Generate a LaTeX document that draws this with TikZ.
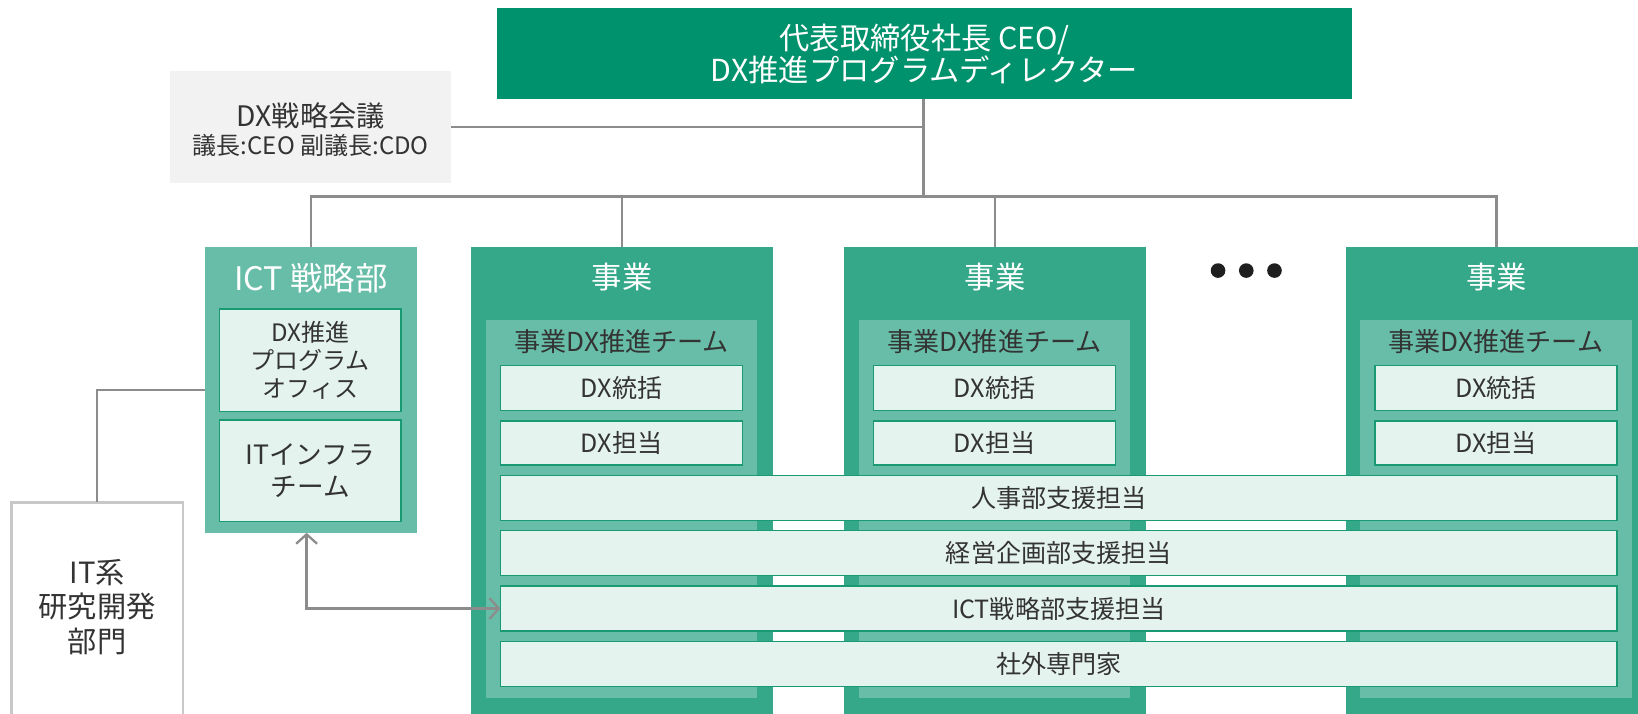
\documentclass[tikz,border=0pt]{standalone}
\usepackage{fontspec}
\setmainfont{Noto Sans CJK JP}
\usetikzlibrary{arrows.meta,calc}
\definecolor{ceogreen}{RGB}{0,146,108}
\definecolor{coldark}{RGB}{52,168,136}
\definecolor{colmid}{RGB}{103,189,167}
\definecolor{boxlight}{RGB}{228,243,238}
\definecolor{boxline}{RGB}{26,154,115}
\definecolor{meetgray}{RGB}{242,242,242}
\definecolor{conngray}{RGB}{140,140,140}
\definecolor{txtdark}{RGB}{51,51,51}
\definecolor{itrline}{RGB}{200,200,200}
\newcommand\fsz[2]{\fontsize{#1}{#2}\selectfont}
\begin{document}
\begin{tikzpicture}[x=1pt,y=-1pt,
  base/.style={rectangle, inner sep=0pt, outer sep=0pt, anchor=north west},
  ceobox/.style={base, fill=ceogreen, text=white, align=center, font=\fsz{29}{31}},
  meetbox/.style={base, fill=meetgray, text=txtdark, align=center},
  colbox/.style={base, fill=coldark},
  ictbox/.style={base, fill=colmid},
  teambox/.style={base, fill=colmid},
  smallbox/.style={base, fill=boxlight, draw=boxline, line width=1.4pt, text=txtdark, align=center, font=\fsz{24}{28}},
  titletext/.style={text=white, font=\fsz{29}{32}},
  teamtext/.style={text=txtdark, font=\fsz{25}{29}},
  conn/.style={draw=conngray, line width=2.2pt},
  dot/.style={circle, fill=black!88, inner sep=0pt, minimum size=14pt}
]
\useasboundingbox (0,0) rectangle (1568,683);

% top
\node[ceobox, minimum width=818pt, minimum height=87pt] (ceo) at (476,8) {代表取締役社長 CEO/\\DX推進プログラムディレクター};
\node[meetbox, minimum width=269pt, minimum height=107pt] (meet) at (163,68) {};
\node[text=txtdark, align=center, font=\fsz{27}{30}] (meett) at ($(meet.center)+(0,-11)$) {DX戦略会議};
\node[text=txtdark, align=center, font=\fsz{23}{26}] (meets) at ($(meet.center)+(0,18)$) {議長:CEO 副議長:CDO};

% ICT
\node[ictbox, minimum width=203pt, minimum height=274pt] (ict) at (196,236) {};
\node[titletext, font=\fsz{31}{34}] (ictt) at ($(ict.north)+(0,30)$) {ICT 戦略部};
\node[smallbox, minimum width=174pt, minimum height=98pt, font=\fsz{23}{27}] (pmo) at (210,296) {DX推進\\プログラム\\オフィス};
\node[smallbox, minimum width=174pt, minimum height=97pt, font=\fsz{25.5}{30}] (infra) at (210,402) {ITインフラ\\チーム};

% IT research
\node[base, fill=white, minimum width=164pt, minimum height=202pt] (itr) at (11,481) {};
\draw[draw=itrline, line width=2pt] (itr.south west) -- (itr.north west) -- (itr.north east) -- (itr.south east);
\node[text=txtdark, align=center, font=\fsz{28}{33}] (itrt) at ($(itr.north)+(0,100)$) {IT系\\研究開発\\部門};

% business columns
\foreach \n/\x in {1/451, 2/808, 3/1288} {
  \node[colbox, minimum width=289pt, minimum height=460pt] (col\n) at (\x,236) {};
  \node[titletext] (colt\n) at ($(col\n.north)+(0,29)$) {事業};
  \node[teambox, minimum width=260pt, minimum height=362pt] (team\n) at (\x+14,306) {};
  \node[teamtext] (teamt\n) at ($(team\n.north)+(0,21)$) {事業DX推進チーム};
  \node[smallbox, minimum width=232pt, minimum height=43pt] (tok\n) at (\x+28,350) {DX統括};
  \node[smallbox, minimum width=232pt, minimum height=42pt] (tan\n) at (\x+28,403) {DX担当};
}

% wide bars
\node[smallbox, minimum width=1069pt, minimum height=43pt] (b1) at (479,455) {人事部支援担当};
\node[smallbox, minimum width=1069pt, minimum height=43pt] (b2) at (479,508) {経営企画部支援担当};
\node[smallbox, minimum width=1069pt, minimum height=43pt] (b3) at (479,561) {ICT戦略部支援担当};
\node[smallbox, minimum width=1069pt, minimum height=43pt] (b4) at (479,614) {社外専門家};

% dots
\node[dot] (d1) at (1166,259) {};
\node[dot] (d2) at (1193,259) {};
\node[dot] (d3) at (1220,259) {};

% connectors
\coordinate (hub) at (884,188);
\draw[conn] (ceo.south -| hub) -- (hub);
\draw[conn] (meet.east) -- (meet.east -| hub);
\draw[conn] (ict.north) -- (ict.north |- hub) -- (col3.north |- hub) -- (col3.north);
\draw[conn] (col1.north |- hub) -- (col1.north);
\draw[conn] (col2.north |- hub) -- (col2.north);
\draw[conn] (itr.north) |- (ict.west);
\draw[conn, {Straight Barb[length=9pt,width=20pt]}-{Straight Barb[length=9pt,width=20pt]}] ([xshift=-4pt]ict.south) |- (b3.west);
\end{tikzpicture}
\end{document}
